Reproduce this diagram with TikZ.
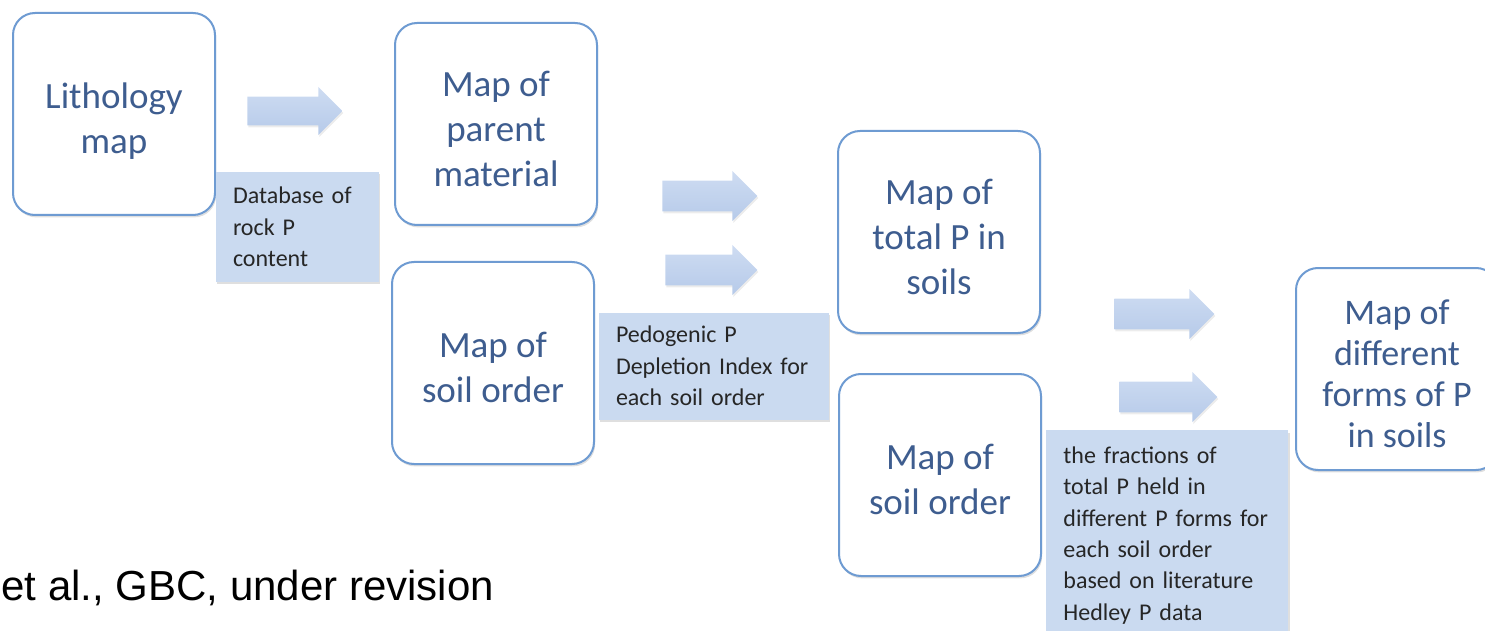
\documentclass[tikz,border=0pt]{standalone}
\usepackage{fontspec}
\setmainfont{Carlito}
\newfontfamily\footfont{Liberation Sans}
\usetikzlibrary{shapes.arrows,shadows}

\definecolor{mapline}{RGB}{110,155,210}
\definecolor{maptext}{RGB}{62,93,143}
\definecolor{notefill}{RGB}{202,218,240}
\definecolor{notetext}{RGB}{38,38,38}
\definecolor{arrowtop}{RGB}{206,220,242}
\definecolor{arrowbot}{RGB}{182,202,233}

\begin{document}
\begin{tikzpicture}[
    x=0.5pt, y=-0.5pt,
    mapbox/.style={rectangle, rounded corners=11pt, draw=mapline, line width=1pt, fill=white,
      minimum width=101pt, minimum height=101pt,
      drop shadow={shadow xshift=0.6pt, shadow yshift=-1.2pt, opacity=0.25}},
    maplabel/.style={align=center, text=maptext, yshift=-2.4pt,
      font=\fontsize{18.5}{22.5}\selectfont},
    note/.style={rectangle, fill=notefill, text=notetext, align=left, inner xsep=8.5pt,
      font=\fontsize{12}{15.7}\selectfont,
      drop shadow={shadow xshift=0.6pt, shadow yshift=-1.2pt, opacity=0.25}},
    blockarrow/.style={single arrow, anchor=tail, single arrow head extend=4.8pt, inner xsep=0pt, inner ysep=7.5pt,
      minimum height=47.5pt, top color=arrowtop, bottom color=arrowbot,
      draw=none, drop shadow={shadow xshift=0.5pt, shadow yshift=-1pt, opacity=0.15}}
]
\useasboundingbox (0,0) rectangle (1485,631);

% map boxes
\node[mapbox, label={[maplabel, yshift=-1.4pt]center:{Lithology\\map}}] (litho) at (114,114) {};
\node[mapbox, label={[maplabel]center:{Map of\\parent\\material}}] (parent) at (496,124) {};
\node[mapbox, label={[maplabel]center:{Map of\\soil order}}] (order) at (493,363) {};
\node[mapbox, label={[maplabel]center:{Map of\\total P in\\soils}}] (totalp) at (939,232) {};
\node[mapbox, label={[maplabel]center:{Map of\\soil order}}] (ordertwo) at (940,475) {};
\node[mapbox, label={[maplabel, font=\fontsize{18}{20.5}\selectfont]center:{Map of\\different\\forms of P\\in soils}}] (forms) at (1397,369) {};

% notes
\node[note, text width=64.5pt, minimum height=55pt] (rockp) at (297.5,227) {Database of\\rock P\\content};
\node[note, text width=98pt, minimum height=53.5pt] (depl) at (714,366) {Pedogenic P\\Depletion Index for\\each soil order};
\node[note, text width=104pt, minimum height=105pt, anchor=north west] (hedley) at (1046,430)
  {the fractions of\\total P held in\\different P forms for\\each soil order\\based on literature\\Hedley P data};

% block arrows
\node[blockarrow, inner ysep=7pt] (a1) at (247,111) {};
\node[blockarrow] (a2) at (662,196) {};
\node[blockarrow, minimum height=46pt] (a3) at (665,270) {};
\node[blockarrow, minimum height=50pt] (a4) at (1114,314) {};
\node[blockarrow, minimum height=49pt] (a5) at (1119,397) {};

\node[anchor=base west, inner sep=0pt, font=\footfont\fontsize{21}{25}\selectfont] (cite) at (1,600) {et al., GBC, under revision};

\end{tikzpicture}
\end{document}
